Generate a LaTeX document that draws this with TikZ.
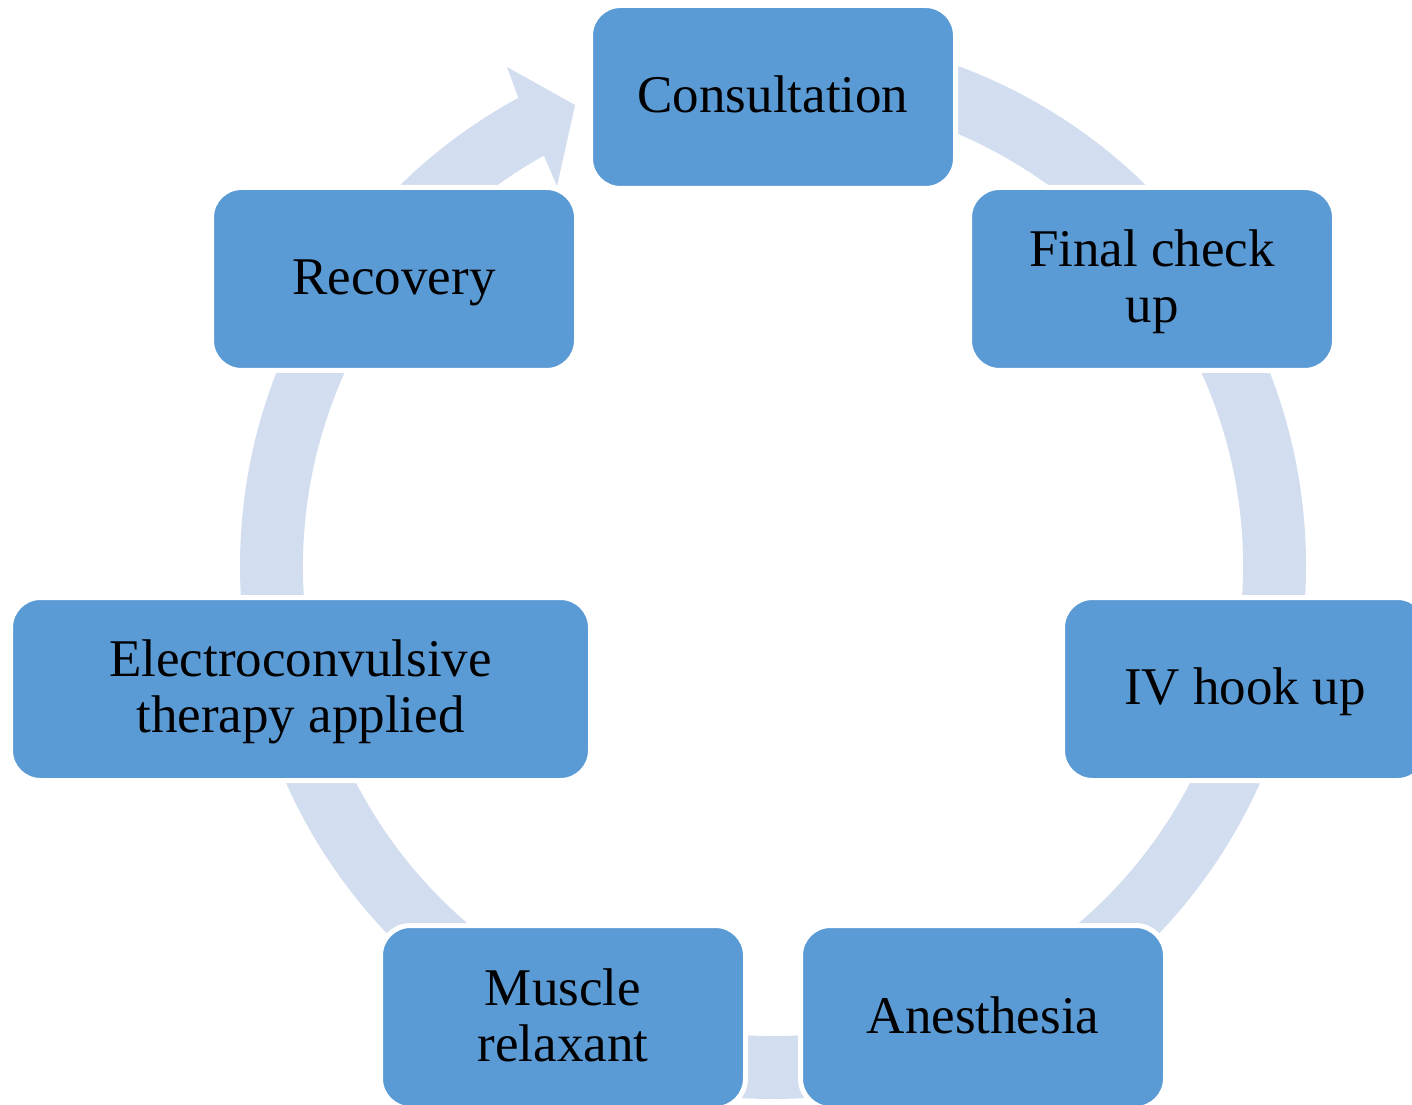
\documentclass[tikz,border=0pt]{standalone}
\usepackage{fontspec}
\setmainfont{Liberation Serif}
\definecolor{nodeblue}{HTML}{5B9BD5}
\definecolor{ringblue}{HTML}{D2DEEF}
\newcommand{\sst}{\rule[-10.5pt]{0pt}{53pt}}
\begin{document}
\begin{tikzpicture}[x=1pt,y=1pt,
  stepnode/.style={rectangle, rounded corners=30pt, fill=nodeblue, draw=white,
    line width=5pt, minimum width=365pt, minimum height=183pt, inner sep=0pt,
    align=center, text=black, font=\fontsize{53}{56}\selectfont},
  ringband/.style={fill=ringblue}]
\useasboundingbox (0,0) rectangle (1412,1104);
\clip (0,0) rectangle (1412,1104);
\coordinate (c) at (773,538);
% cycle ring with arrowhead (Recovery -> Consultation)
\fill[ringband, shift={(773,538)}]
  (118.53:533.8) -- (118.06:565.5) -- (113.24:501.7) -- (119.62:437) -- (119.18:470)
  arc[start angle=119.18, end angle=450, radius=470]
  -- (450:533)
  arc[start angle=450, end angle=118.53, radius=533] -- cycle;
% steps
\node[stepnode] (consult) at (773,1007) {\sst Consultation};
\node[stepnode] (final) at (1152,825) {\sst Final check\\\sst up};
\node[stepnode] (iv) at (1245,415) {\sst IV hook up};
\node[stepnode] (anest) at (983,87) {\sst Anesthesia};
\node[stepnode] (muscle) at (563,87) {\sst Muscle\\\sst relaxant};
\node[stepnode, minimum width=580pt] (ect) at (300.5,415) {\sst Electroconvulsive\\\sst therapy applied};
\node[stepnode] (recov) at (394,825) {\sst Recovery};
\end{tikzpicture}
\end{document}
